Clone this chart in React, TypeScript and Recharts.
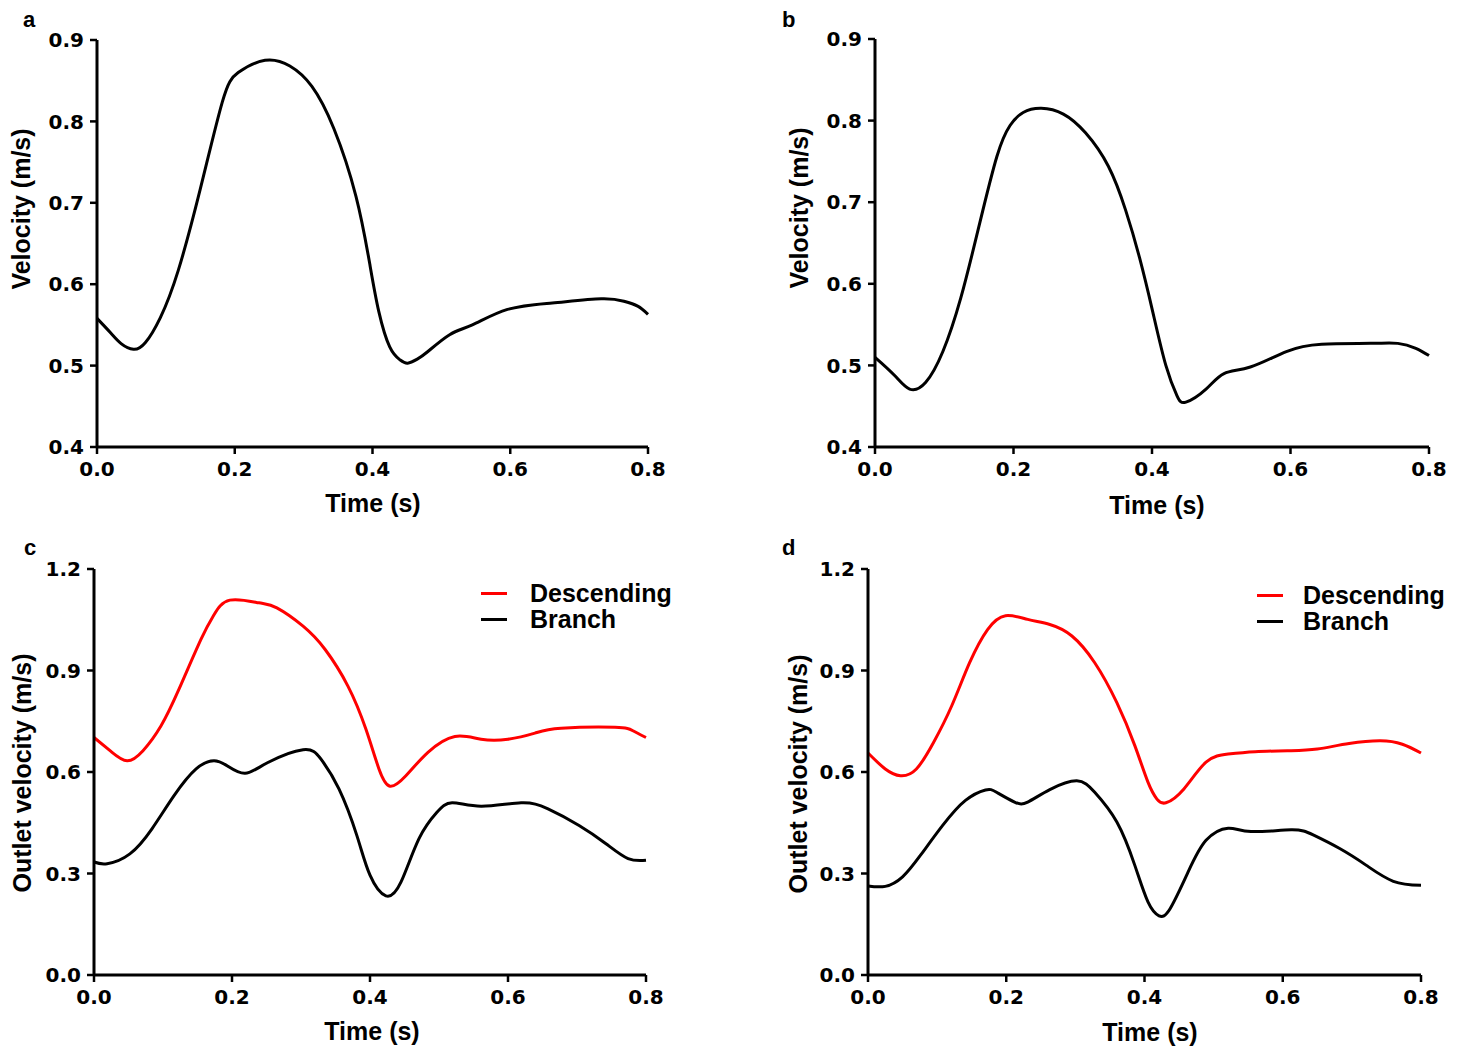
import React from "react";
import { LineChart, Line, XAxis, YAxis, Legend } from "recharts";

// Panel a: inlet velocity, case 1
const timeA = [0, 0.02, 0.035, 0.053, 0.07, 0.092, 0.118, 0.15, 0.182, 0.205, 0.244, 0.28, 0.312, 0.344, 0.376, 0.396, 0.409, 0.425, 0.44, 0.451, 0.465, 0.48, 0.512, 0.545, 0.596, 0.661, 0.732, 0.765, 0.785, 0.8];
const velA = [0.558, 0.54, 0.527, 0.52, 0.528, 0.559, 0.617, 0.717, 0.824, 0.86, 0.875, 0.868, 0.843, 0.791, 0.708, 0.625, 0.567, 0.523, 0.507, 0.503, 0.508, 0.517, 0.538, 0.55, 0.569, 0.577, 0.582, 0.579, 0.573, 0.563];

// Panel b: inlet velocity, case 2
const timeB = [0, 0.028, 0.05, 0.073, 0.098, 0.124, 0.15, 0.176, 0.195, 0.214, 0.24, 0.272, 0.304, 0.337, 0.362, 0.382, 0.401, 0.42, 0.436, 0.449, 0.478, 0.504, 0.542, 0.594, 0.645, 0.716, 0.755, 0.781, 0.8];
const velB = [0.51, 0.488, 0.471, 0.479, 0.517, 0.583, 0.67, 0.756, 0.794, 0.81, 0.815, 0.808, 0.785, 0.744, 0.69, 0.632, 0.566, 0.5, 0.463, 0.455, 0.471, 0.49, 0.498, 0.517, 0.526, 0.527, 0.527, 0.521, 0.512];

// Panel c: outlet velocities, case 1
const timeCDesc = [0, 0.025, 0.048, 0.071, 0.097, 0.123, 0.155, 0.174, 0.197, 0.239, 0.265, 0.303, 0.335, 0.368, 0.394, 0.413, 0.429, 0.452, 0.484, 0.523, 0.561, 0.6, 0.639, 0.677, 0.755, 0.781, 0.8];
const velCDesc = [0.702, 0.66, 0.633, 0.663, 0.736, 0.844, 0.992, 1.065, 1.108, 1.1, 1.085, 1.031, 0.962, 0.854, 0.727, 0.609, 0.558, 0.589, 0.658, 0.705, 0.697, 0.697, 0.715, 0.729, 0.732, 0.722, 0.702];
const timeCBranch = [0, 0.019, 0.052, 0.084, 0.116, 0.148, 0.174, 0.194, 0.219, 0.252, 0.303, 0.329, 0.355, 0.381, 0.4, 0.423, 0.445, 0.471, 0.497, 0.519, 0.561, 0.619, 0.658, 0.703, 0.742, 0.774, 0.8];
const velCBranch = [0.334, 0.329, 0.358, 0.432, 0.53, 0.609, 0.633, 0.617, 0.596, 0.628, 0.666, 0.638, 0.55, 0.412, 0.295, 0.234, 0.275, 0.403, 0.481, 0.509, 0.499, 0.509, 0.491, 0.442, 0.388, 0.344, 0.339];

// Panel d: outlet velocities, case 2
const timeDDesc = [0, 0.025, 0.047, 0.07, 0.095, 0.121, 0.147, 0.173, 0.199, 0.231, 0.263, 0.295, 0.328, 0.36, 0.386, 0.405, 0.418, 0.431, 0.457, 0.489, 0.521, 0.56, 0.612, 0.65, 0.696, 0.741, 0.773, 0.8];
const velDDesc = [0.656, 0.609, 0.589, 0.609, 0.688, 0.795, 0.923, 1.021, 1.062, 1.051, 1.036, 1.002, 0.923, 0.805, 0.678, 0.57, 0.52, 0.509, 0.55, 0.629, 0.653, 0.66, 0.663, 0.668, 0.684, 0.692, 0.682, 0.656];
const timeDBranch = [0, 0.025, 0.05, 0.076, 0.108, 0.141, 0.17, 0.186, 0.212, 0.231, 0.263, 0.302, 0.328, 0.36, 0.386, 0.405, 0.421, 0.437, 0.463, 0.489, 0.521, 0.554, 0.612, 0.644, 0.683, 0.721, 0.76, 0.8];
const velDBranch = [0.263, 0.262, 0.29, 0.354, 0.442, 0.516, 0.547, 0.54, 0.511, 0.511, 0.548, 0.574, 0.54, 0.452, 0.324, 0.216, 0.175, 0.196, 0.304, 0.398, 0.434, 0.424, 0.429, 0.414, 0.373, 0.324, 0.277, 0.265];

const timeTicks = [0, 0.2, 0.4, 0.6, 0.8];
const inletTicks = [0.4, 0.5, 0.6, 0.7, 0.8, 0.9];
const outletTicks = [0, 0.3, 0.6, 0.9, 1.2];
const seriesNames = ["Descending", "Branch"];

const zip = (t: number[], v: number[]) => t.map((x, i) => ({ t: x, v: v[i] }));

const TITLE_FONT = "'Liberation Sans', Arial, sans-serif";
const TICK_FONT = "'DejaVu Sans', Verdana, sans-serif";

type Series = { data: { t: number; v: number }[]; color: string; name: string };

type PanelProps = {
  left: number;
  top: number;
  height: number;
  yWidth: number;
  margin: { top: number; right: number; bottom: number; left: number };
  yDomain: [number, number];
  yTicks: number[];
  yTitle: string;
  yTitlePos: [number, number];
  xTitlePos: [number, number];
  letter: string;
  letterPos: [number, number];
  series: Series[];
  legend?: { left: number; top: number; gap: number };
};

function Panel(p: PanelProps) {
  const tickStyle = { fill: "#000", fontSize: 20, fontWeight: 700, fontFamily: TICK_FONT };
  const titleProps = { fontFamily: TITLE_FONT, fontWeight: 700, fontSize: 25, fill: "#000" };

  return (
    <div style={{ position: "absolute", left: p.left, top: p.top, width: 700, height: p.height }}>
      <LineChart width={700} height={p.height} margin={p.margin}>
        <XAxis
          type="number"
          dataKey="t"
          domain={[0, 0.8]}
          ticks={timeTicks}
          tickFormatter={(v: number) => v.toFixed(1)}
          height={60}
          tickSize={7}
          tickMargin={8}
          tick={tickStyle}
          axisLine={{ stroke: "#000", strokeWidth: 3 }}
          tickLine={{ stroke: "#000", strokeWidth: 2.5 }}
          label={() => (
            <text x={p.xTitlePos[0]} y={p.xTitlePos[1]} textAnchor="middle" {...titleProps}>
              Time (s)
            </text>
          )}
        />
        <YAxis
          type="number"
          domain={p.yDomain}
          ticks={p.yTicks}
          tickFormatter={(v: number) => v.toFixed(1)}
          width={p.yWidth}
          tickSize={7}
          tickMargin={6}
          tick={tickStyle}
          axisLine={{ stroke: "#000", strokeWidth: 3 }}
          tickLine={{ stroke: "#000", strokeWidth: 2.5 }}
          label={() => (
            <g>
              <text
                x={p.yTitlePos[0]}
                y={p.yTitlePos[1]}
                transform={`rotate(-90 ${p.yTitlePos[0]} ${p.yTitlePos[1]})`}
                textAnchor="middle"
                dominantBaseline="central"
                {...titleProps}
              >
                {p.yTitle}
              </text>
              <text x={p.letterPos[0]} y={p.letterPos[1]} {...titleProps} fontSize={22}>
                {p.letter}
              </text>
            </g>
          )}
        />
        {p.legend && (
          <Legend
            layout="horizontal"
            verticalAlign="middle"
            align="center"
            wrapperStyle={{ left: p.legend.left, top: p.legend.top, width: "auto", height: "auto" }}
            content={({ payload }: any) => {
              // keep the figure's order: Descending on top, Branch below
              const items = [...(payload || [])].sort(
                (a: any, b: any) => seriesNames.indexOf(a.value) - seriesNames.indexOf(b.value)
              );
              return (
                <div>
                  {items.map((e: any) => (
                    <div key={e.value} style={{ display: "flex", alignItems: "center", height: 26 }}>
                      <div style={{ width: 26, height: 3, background: e.color, marginRight: p.legend!.gap }} />
                      <span style={{ fontFamily: TITLE_FONT, fontWeight: 700, fontSize: 25, lineHeight: "26px", color: "#000" }}>
                        {e.value}
                      </span>
                    </div>
                  ))}
                </div>
              );
            }}
          />
        )}
        {p.series.map((s) => (
          <Line
            key={s.name}
            data={s.data}
            dataKey="v"
            name={s.name}
            type="natural"
            stroke={s.color}
            strokeWidth={3}
            dot={false}
            activeDot={false}
            isAnimationActive={false}
          />
        ))}
      </LineChart>
    </div>
  );
}

export default function App() {
  return (
    <div style={{ position: "absolute", left: 0, top: 0, width: 1465, height: 1051, background: "#fff" }}>
      <Panel
        left={0}
        top={0}
        height={525}
        yWidth={97}
        margin={{ top: 40, right: 52, bottom: 18, left: 0 }}
        yDomain={[0.4, 0.9]}
        yTicks={inletTicks}
        yTitle="Velocity (m/s)"
        yTitlePos={[21, 209]}
        xTitlePos={[373, 512]}
        letter="a"
        letterPos={[23, 27]}
        series={[{ data: zip(timeA, velA), color: "#000", name: "Inlet" }]}
      />
      <Panel
        left={765}
        top={0}
        height={525}
        yWidth={110}
        margin={{ top: 39, right: 36, bottom: 18, left: 0 }}
        yDomain={[0.4, 0.9]}
        yTicks={inletTicks}
        yTitle="Velocity (m/s)"
        yTitlePos={[34, 208]}
        xTitlePos={[392, 514]}
        letter="b"
        letterPos={[17, 27]}
        series={[{ data: zip(timeB, velB), color: "#000", name: "Inlet" }]}
      />
      <Panel
        left={0}
        top={530}
        height={521}
        yWidth={94}
        margin={{ top: 39, right: 54, bottom: 16, left: 0 }}
        yDomain={[0, 1.2]}
        yTicks={outletTicks}
        yTitle="Outlet velocity (m/s)"
        yTitlePos={[22, 243]}
        xTitlePos={[372, 510]}
        letter="c"
        letterPos={[24, 25]}
        series={[
          { data: zip(timeCDesc, velCDesc), color: "#ff0000", name: seriesNames[0] },
          { data: zip(timeCBranch, velCBranch), color: "#000", name: seriesNames[1] },
        ]}
        legend={{ left: 481, top: 50, gap: 23 }}
      />
      <Panel
        left={765}
        top={530}
        height={521}
        yWidth={103}
        margin={{ top: 39, right: 44, bottom: 16, left: 0 }}
        yDomain={[0, 1.2]}
        yTicks={outletTicks}
        yTitle="Outlet velocity (m/s)"
        yTitlePos={[33, 244]}
        xTitlePos={[385, 511]}
        letter="d"
        letterPos={[17, 25]}
        series={[
          { data: zip(timeDDesc, velDDesc), color: "#ff0000", name: seriesNames[0] },
          { data: zip(timeDBranch, velDBranch), color: "#000", name: seriesNames[1] },
        ]}
        legend={{ left: 492, top: 52, gap: 20 }}
      />
    </div>
  );
}
